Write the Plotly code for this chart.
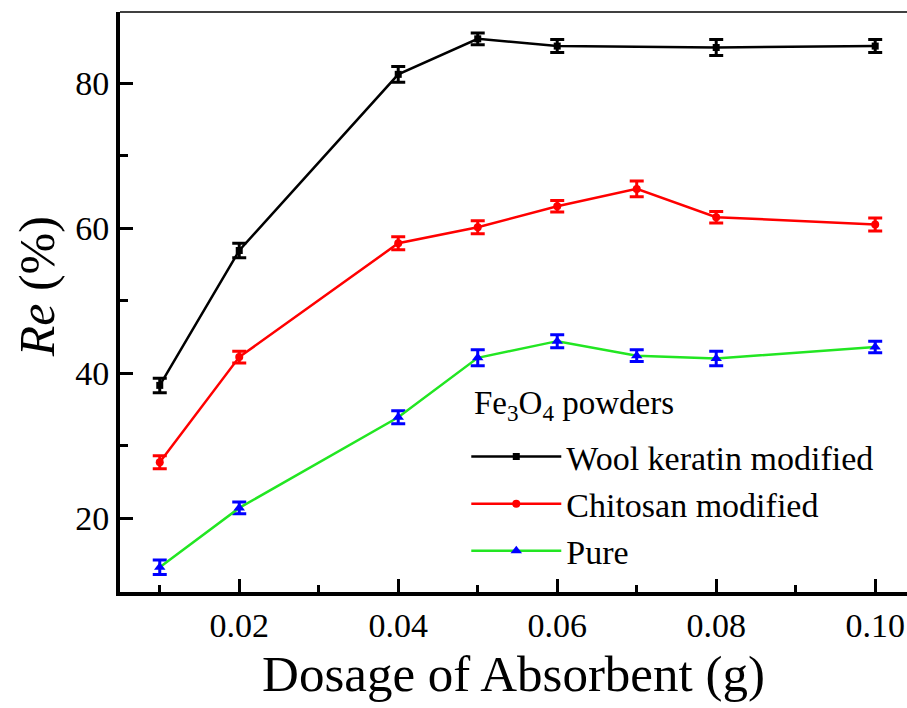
import plotly.graph_objects as go

# ---- data ----
x_wool = [0.01, 0.02, 0.04, 0.05, 0.06, 0.08, 0.10]
y_wool = [38.3, 56.9, 81.2, 86.1, 85.1, 84.9, 85.1]
e_wool = [1.0, 1.0, 1.1, 0.8, 0.9, 1.1, 0.9]

x_chit = [0.01, 0.02, 0.04, 0.05, 0.06, 0.07, 0.08, 0.10]
y_chit = [27.7, 42.2, 57.9, 60.1, 63.0, 65.4, 61.5, 60.5]
e_chit = [0.9, 0.8, 0.9, 0.9, 0.8, 1.1, 0.8, 0.9]

x_pure = [0.01, 0.02, 0.04, 0.05, 0.06, 0.07, 0.08, 0.10]
y_pure = [13.2, 21.4, 33.9, 42.1, 44.4, 42.4, 42.0, 43.6]
e_pure = [1.0, 0.8, 0.9, 1.1, 0.9, 0.8, 1.0, 0.8]

x_tickvals = [0.02, 0.04, 0.06, 0.08, 0.10]
x_ticktext = ["0.02", "0.04", "0.06", "0.08", "0.10"]
y_tickvals = [20, 40, 60, 80]

FONT = "Times New Roman, Liberation Serif, serif"

fig = go.Figure()

def add(x, y, e, name, lcolor, mcolor, symbol, msize):
    fig.add_trace(go.Scatter(
        x=x, y=y, name=name, mode="lines+markers",
        line=dict(color=lcolor, width=2.5),
        marker=dict(color=mcolor, symbol=symbol, size=msize),
        error_y=dict(type="data", array=e, visible=True, color=mcolor,
                     thickness=3, width=7),
    ))

add(x_wool, y_wool, e_wool, "Wool keratin modified", "black", "black", "square", 7)
add(x_chit, y_chit, e_chit, "Chitosan modified", "#ff0000", "#ff0000", "circle", 8)
add(x_pure, y_pure, e_pure, "Pure", "#22e622", "#0000ff", "triangle-up", 10)

fig.update_layout(
    width=907, height=708,
    margin=dict(l=120, r=0, t=12, b=116),
    paper_bgcolor="white", plot_bgcolor="white",
    font=dict(family=FONT, color="black", size=30),
    showlegend=True,
    legend=dict(
        x=0.44, y=0.283, xanchor="left", yanchor="top",
        bgcolor="rgba(0,0,0,0)",
        font=dict(family=FONT, size=34, color="black"),
        itemwidth=90,
    ),
    xaxis=dict(
        range=[0.005, 0.104],
        tickvals=x_tickvals, ticktext=x_ticktext,
        ticks="inside", ticklen=13, tickwidth=3, tickcolor="black",
        minor=dict(tickvals=[0.01, 0.03, 0.05, 0.07, 0.09], ticks="inside",
                   ticklen=7, tickwidth=3, tickcolor="black"),
        showline=True, linewidth=4, linecolor="black",
        showgrid=False, zeroline=False,
        tickfont=dict(family=FONT, size=34, color="black"),
        title=dict(text="Dosage of Absorbent (g)",
                   font=dict(family=FONT, size=51, color="black"),
                   standoff=14),
    ),
    yaxis=dict(
        range=[9.8, 89.8],
        tickvals=y_tickvals,
        ticks="inside", ticklen=13, tickwidth=3, tickcolor="black",
        minor=dict(tickvals=[30, 50, 70], ticks="inside",
                   ticklen=8, tickwidth=3, tickcolor="black"),
        showline=True, linewidth=4, linecolor="black",
        showgrid=False, zeroline=False,
        tickfont=dict(family=FONT, size=34, color="black"),
    ),
    annotations=[
        dict(text="<i>Re</i> (%)", textangle=-90, showarrow=False,
             xref="paper", yref="paper", x=-0.105, y=0.526,
             xanchor="center", yanchor="middle",
             font=dict(family=FONT, size=50, color="black")),
        dict(text="Fe<sub>3</sub>O<sub>4</sub> powders", showarrow=False,
             xref="paper", yref="paper", x=0.447, y=0.322,
             xanchor="left", yanchor="middle",
             font=dict(family=FONT, size=33, color="black")),
    ],
)

# thin top frame line
fig.add_shape(type="line", xref="paper", yref="paper", x0=0, x1=1, y0=1, y1=1,
              line=dict(color="black", width=1.5))

fig.write_html("out.html")
